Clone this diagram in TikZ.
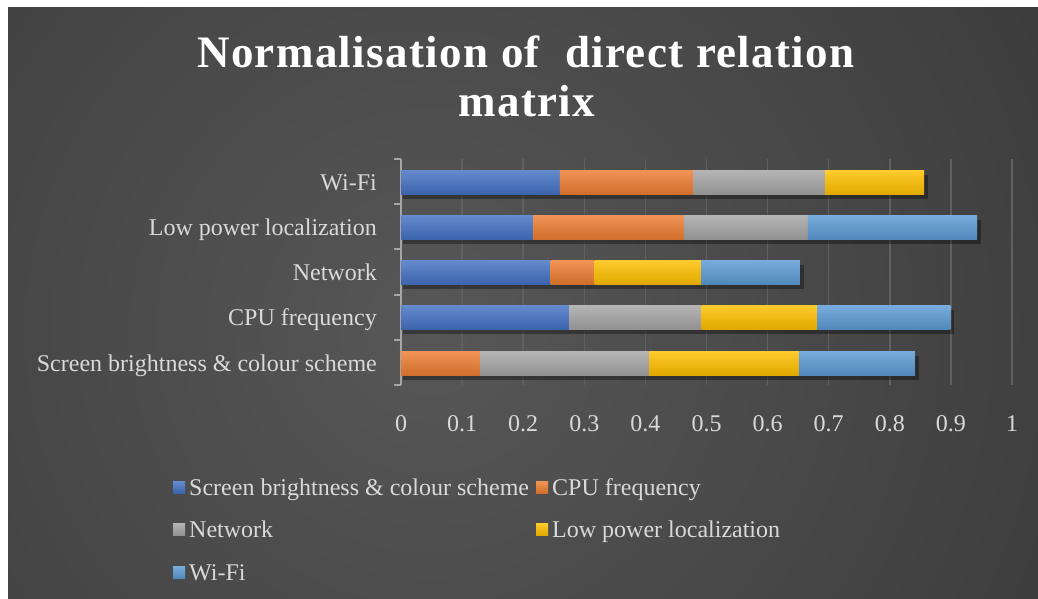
\documentclass[tikz,border=0pt]{standalone}
\usepackage{fontspec}
\setmainfont{Liberation Serif}

\definecolor{serA}{HTML}{4472C4}
\definecolor{serB}{HTML}{ED7D31}
\definecolor{serC}{HTML}{A5A5A5}
\definecolor{serD}{HTML}{FFC000}
\definecolor{serE}{HTML}{5B9BD5}
\definecolor{bgdark}{HTML}{2B2B2B}
\definecolor{bglight}{HTML}{575757}
\definecolor{txtc}{HTML}{D9D9D9}
\definecolor{gridc}{HTML}{606060}
\definecolor{axisc}{HTML}{A6A6A6}

\tikzset{
  seg/.style={top color=#1!82!white, bottom color=#1!88!black},
  lbl/.style={text=txtc, inner sep=0pt, font=\fontsize{24}{28}\selectfont},
  ttl/.style={inner sep=0pt, text=white,
    font=\fontsize{45}{50}\selectfont\bfseries\addfontfeatures{LetterSpace=3}}
}

\begin{document}
\begin{tikzpicture}[x=1pt,y=-1pt]
\useasboundingbox (0,0) rectangle (1038,599);
\fill[white] (0,0) rectangle (1038,599);
% background
\begin{scope}
\clip (8,8) rectangle (1038,599);
\fill[bgdark] (8,8) rectangle (1038,599);
\shade[inner color=bglight, outer color=bgdark] (430,330) circle (1150);
\end{scope}

% title
\node[ttl, anchor=base] (title1) at (526,68) {Normalisation of~~direct relation};
\node[ttl, anchor=base] (title2) at (527,117) {matrix};

% grid and axis
\foreach \k in {1,...,10}
  \draw[gridc, line width=1.5] (401+61.1*\k,159) -- (401+61.1*\k,385);
\foreach \k/\t in {0/0,1/0.1,2/0.2,3/0.3,4/0.4,5/0.5,6/0.6,7/0.7,8/0.8,9/0.9,10/1}
  \node[lbl, anchor=base] (tick\k) at (401+61.1*\k,431) {\t};
\draw[axisc, line width=2] (401,159) -- (401,385);
\foreach \yy in {159,204,249,295,340,385}
  \draw[axisc, line width=2] (394,\yy) -- (401,\yy);

% bars
\foreach \yc/\len in {182/0.856,227/0.943,272/0.653,317/0.899,363/0.841}
  \fill[black, opacity=.35] (403,\yc-7) rectangle (401+611*\len+4,\yc+17);
\foreach \yc/\from/\to/\col in {
    182/0/0.26/serA, 182/0.26/0.478/serB, 182/0.478/0.694/serC, 182/0.694/0.856/serD,
    227/0/0.216/serA, 227/0.216/0.463/serB, 227/0.463/0.666/serC, 227/0.666/0.943/serE,
    272/0/0.245/serA, 272/0.245/0.317/serB, 272/0.317/0.492/serD, 272/0.492/0.653/serE,
    317/0/0.275/serA, 317/0.275/0.492/serC, 317/0.492/0.681/serD, 317/0.681/0.899/serE,
    363/0/0.129/serB, 363/0.129/0.406/serC, 363/0.406/0.651/serD, 363/0.651/0.841/serE}
  \fill[seg=\col] (401+611*\from,\yc-12) rectangle (401+611*\to,\yc+12);

% category labels
\foreach \yc/\name [count=\i] in {182/Wi-Fi,227/Low power localization,272/Network,317/CPU frequency,363/Screen brightness \& colour scheme}
  \node[lbl, anchor=base east] (cat\i) at (377,\yc+8) {\name};

% legend
\foreach \mx/\my/\col/\name [count=\i] in {173/487/serA/Screen brightness \& colour scheme,
    536/487/serB/CPU frequency, 173/529/serC/Network, 536/529/serD/Low power localization,
    173/572/serE/Wi-Fi}
{
  \fill[seg=\col] (\mx,\my-6) rectangle (\mx+12,\my+6);
  \node[lbl, anchor=base west] (leg\i) at (\mx+16,\my+8) {\name};
}
\end{tikzpicture}
\end{document}
